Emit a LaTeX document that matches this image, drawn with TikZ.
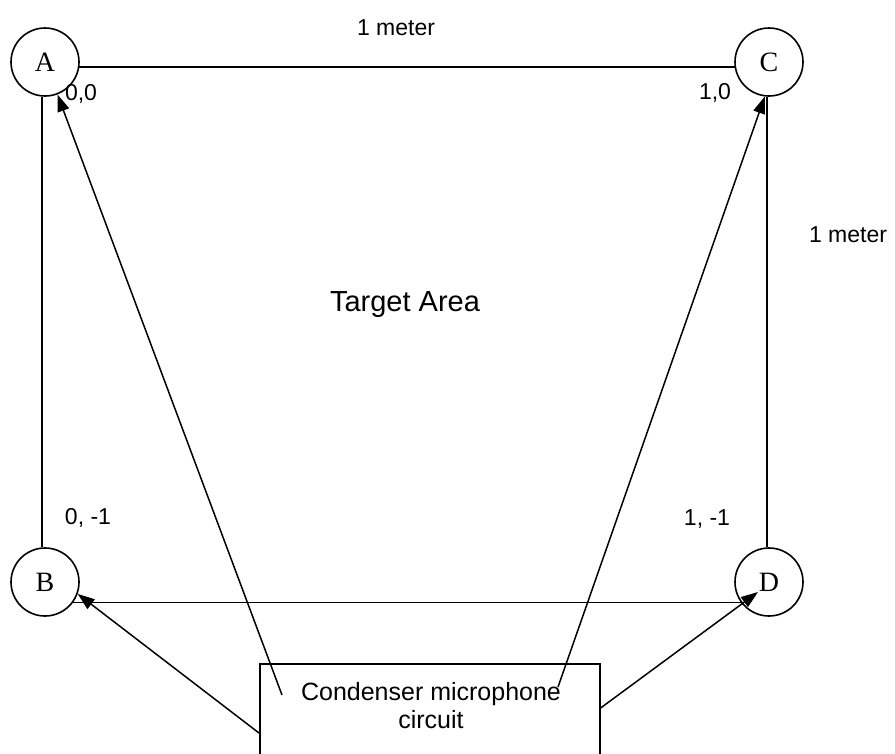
\documentclass[tikz,border=0pt]{standalone}
\usepackage{fontspec}
\setmainfont{Liberation Sans}
\newfontfamily\letterfont{Liberation Serif}
\usetikzlibrary{arrows.meta}
\begin{document}
\begin{tikzpicture}[x=1pt,y=-1pt,
  station/.style={circle,draw,line width=1.6pt,minimum size=68pt,inner sep=0pt,
    font=\letterfont\fontsize{28}{28}\selectfont},
  lbl/.style={font=\fontsize{23}{23}\selectfont,inner sep=0pt},
  wire/.style={line width=1.6pt},
  arr/.style={line width=1.5pt,-{Triangle[length=17pt,width=12pt]}}]
\useasboundingbox (0,0) rectangle (895,753);
\clip (0,0) rectangle (895,753);
% stations
\node[station] (A) at (45,62) {A};
\node[station] (C) at (769,62) {C};
\node[station] (B) at (45,582) {B};
\node[station] (D) at (769,582) {D};
% square sides
\draw[wire] (A.-8) -- (C.-172);
\draw[wire] (A.-95) -- (B.95);
\draw[wire] (C.-93) -- (D.93);
\draw[wire] (B.-36) -- (D.-144);
% labels
\node[lbl] (top) at (396,28) {1 meter};
\node[lbl] (side) at (848,235) {1 meter};
\node[lbl] (la) at (81,94) {0,0};
\node[lbl] (lc) at (715,93) {1,0};
\node[lbl] (lb) at (88,518) {0, -1};
\node[lbl] (ld) at (707,519) {1, -1};
\node[font=\fontsize{29}{29}\selectfont,inner sep=0pt] (target) at (405,305) {Target Area};
% circuit box
\node[draw,line width=1.6pt,minimum width=340pt,minimum height=100pt,anchor=north west,inner sep=0pt] (box) at (259,663) {};
\node[font=\fontsize{25}{28}\selectfont,align=center,inner sep=0pt] (boxtext) at (431,706) {Condenser microphone\\circuit};
% arrow start points
\coordinate (sA) at (282,695);
\coordinate (sC) at (558,687);
\coordinate (sB) at (box.west |- 0,733);
\coordinate (sD) at (box.east |- 0,708);
\coordinate (Dtip) at ([shift={(-11,10)}]D.center);
% arrows
\draw[arr] (sA) -- (A.-69);
\draw[arr] (sC) -- (C.-97);
\draw[arr] (sB) -- (B.-20);
\draw[arr] (sD) -- (Dtip);
\end{tikzpicture}
\end{document}
